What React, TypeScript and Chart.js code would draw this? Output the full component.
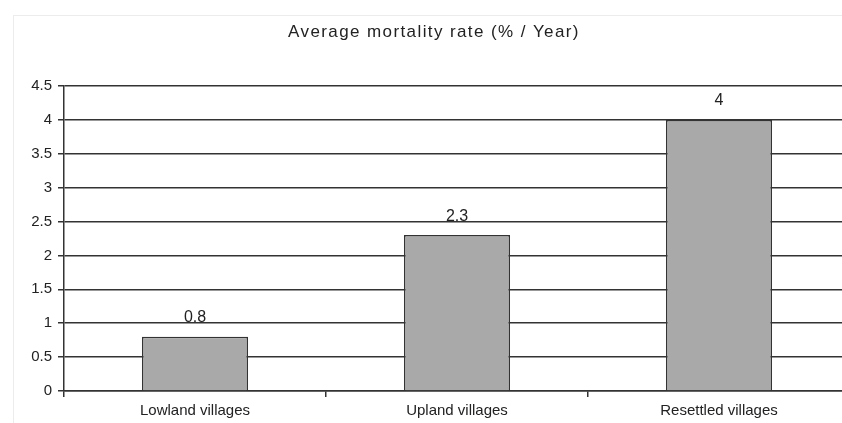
import React, { useEffect, useRef } from "react";
import { Chart, registerables } from "chart.js";

Chart.register(...registerables);

const categories = ["Lowland villages", "Upland villages", "Resettled villages"];
const mortality = [0.8, 2.3, 4];
const valueLabels = ["0.8", "2.3", "4"];
const titleText = "Average mortality rate (% / Year)";

const FONT = "'Liberation Sans', Arial, sans-serif";

const frame = {
  id: "frame",
  beforeDraw(chart: any) {
    const ctx = chart.ctx;
    ctx.save();
    ctx.fillStyle = "#ffffff";
    ctx.fillRect(0, 0, chart.width, chart.height);
    ctx.strokeStyle = "#ececec";
    ctx.lineWidth = 1;
    ctx.strokeRect(13.5, 15.5, chart.width, chart.height);
    ctx.restore();
  },
  afterDraw(chart: any) {
    const ctx = chart.ctx;
    ctx.save();
    ctx.font = `17px ${FONT}`;
    ctx.fillStyle = "#222";
    ctx.textAlign = "center";
    ctx.textBaseline = "middle";
    try {
      (ctx as any).letterSpacing = "1.4px";
    } catch (e) {}
    ctx.fillText(titleText, 434, 32);
    ctx.restore();
  },
};

const valueLabelPlugin = {
  id: "valueLabels",
  afterDatasetsDraw(chart: any) {
    const ctx = chart.ctx;
    const meta = chart.getDatasetMeta(0);
    ctx.save();
    ctx.font = `16px ${FONT}`;
    ctx.fillStyle = "#222";
    ctx.textAlign = "center";
    ctx.textBaseline = "middle";
    meta.data.forEach((bar: any, i: number) => {
      ctx.fillText(valueLabels[i], bar.x, bar.y - 19);
    });
    ctx.restore();
  },
};

export default function App() {
  const ref = useRef<HTMLCanvasElement>(null);
  useEffect(() => {
    if (!ref.current) return;
    const chart = new Chart(ref.current, {
      type: "bar",
      data: {
        labels: categories,
        datasets: [
          {
            data: mortality,
            backgroundColor: "#a9a9a9",
            borderColor: "#333333",
            borderWidth: 1.5,
            barPercentage: 0.405,
            categoryPercentage: 1,
          },
        ],
      },
      options: {
        animation: false,
        responsive: false,
        maintainAspectRatio: false,
        layout: { padding: { left: 0, right: 2, top: 86, bottom: 0 } },
        plugins: {
          legend: { display: false },
          tooltip: { enabled: false },
          title: { display: false },
        },
        scales: {
          x: {
            offset: true,
            grid: {
              offset: true,
              drawOnChartArea: false,
              drawTicks: true,
              tickLength: 6,
              color: "#333",
              lineWidth: 1.5,
            },
            border: { display: true, color: "#333", width: 1.5 },
            ticks: {
              color: "#222",
              font: { family: FONT, size: 15 },
              padding: 5,
              maxRotation: 0,
            },
            afterFit(scale: any) {
              scale.height = 32;
            },
          },
          y: {
            min: 0,
            max: 4.5,
            ticks: {
              stepSize: 0.5,
              color: "#222",
              font: { family: FONT, size: 15 },
              padding: 6,
              callback: (v: any) => String(Number(v)),
            },
            grid: {
              color: "#333",
              lineWidth: 1.5,
              tickLength: 6,
            },
            border: { display: true, color: "#333", width: 1.5 },
            afterFit(scale: any) {
              scale.width = 64;
            },
          },
        },
      },
      plugins: [frame, valueLabelPlugin],
    });
    return () => chart.destroy();
  }, []);
  return (
    <div
      style={{
        position: "fixed",
        left: 0,
        top: 0,
        width: 842,
        height: 423,
        overflow: "hidden",
        background: "#fff",
      }}
    >
      <canvas ref={ref} width={852} height={423} style={{ display: "block" }} />
    </div>
  );
}
